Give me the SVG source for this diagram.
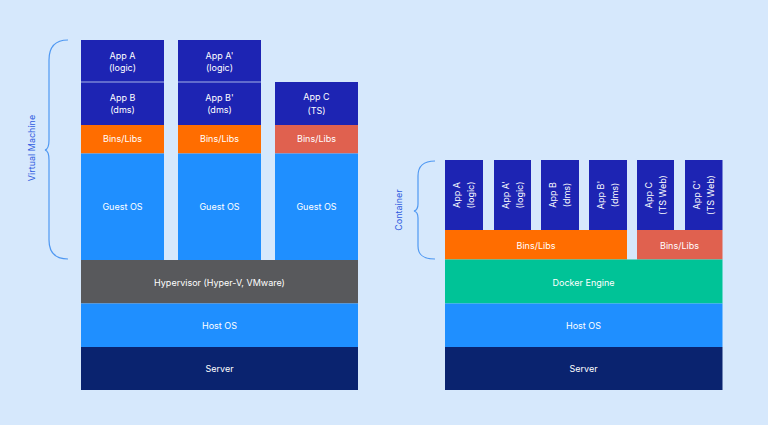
<svg xmlns="http://www.w3.org/2000/svg" width="768" height="425" viewBox="0 0 768 425">
<style>
text{font-family:Inter,"Open Sans","Liberation Sans",sans-serif;font-size:9px;fill:#ffffff;text-anchor:middle}
.lbl{fill:#2f5be0}
.app{fill:#1d24b3}
.bins{fill:#ff6d00}
.bins2{fill:#e0614f}
.guest{fill:#1f8fff}
.hyp{fill:#58595c}
.host{fill:#1f8fff}
.srv{fill:#0a236f}
.dock{fill:#00c397}
.sep{stroke:#c9d8f5;stroke-width:0.8}
.brace{fill:none;stroke:#4f98f2;stroke-width:1.2}
</style>
<rect width="768" height="425" fill="#d6e8fc"/>
<g id="vm-bracket">
<path class="brace" d="M68,40 C56,40 49,46 49,60 L49,140 Q49,149 45,150 Q49,151 49,160 L49,240 C49,253 56,259 68,259"/>
<text class="lbl" transform="translate(32,148) rotate(-90)" y="3.3">Virtual Machine</text>
</g>
<g id="vm1">
<rect class="app" x="81" y="40" width="83" height="85"/>
<line class="sep" x1="81" y1="82" x2="164" y2="82"/>
<text x="122.5" y="58.5">App A</text><text x="122.5" y="71">(logic)</text>
<text x="122.5" y="100.5">App B</text><text x="122.5" y="113">(dms)</text>
<rect class="bins" x="81" y="125" width="83" height="28.5"/>
<text x="122.5" y="142">Bins/Libs</text>
<rect class="guest" x="81" y="153.5" width="83" height="106.5"/>
<text x="122.5" y="210">Guest OS</text>
</g>
<g id="vm2">
<rect class="app" x="178" y="40" width="83" height="85"/>
<line class="sep" x1="178" y1="82" x2="261" y2="82"/>
<text x="219.5" y="58.5">App A'</text><text x="219.5" y="71">(logic)</text>
<text x="219.5" y="100.5">App B'</text><text x="219.5" y="113">(dms)</text>
<rect class="bins" x="178" y="125" width="83" height="28.5"/>
<text x="219.5" y="142">Bins/Libs</text>
<rect class="guest" x="178" y="153.5" width="83" height="106.5"/>
<text x="219.5" y="210">Guest OS</text>
</g>
<g id="vm3">
<rect class="app" x="275" y="82" width="83" height="43"/>
<text x="316.5" y="100">App C</text><text x="316.5" y="113.5">(TS)</text>
<rect class="bins2" x="275" y="125" width="83" height="28.5"/>
<text x="316.5" y="142">Bins/Libs</text>
<rect class="guest" x="275" y="153.5" width="83" height="106.5"/>
<text x="316.5" y="210">Guest OS</text>
</g>
<g id="hypervisor">
<rect class="hyp" x="81" y="260" width="277" height="43.5"/>
<text x="219.5" y="285.5">Hypervisor (Hyper-V, VMware)</text>
</g>
<g id="host-left">
<rect class="host" x="81" y="303.5" width="277" height="43.5"/>
<text x="219.5" y="329">Host OS</text>
</g>
<g id="server-left">
<rect class="srv" x="81" y="347" width="277" height="43"/>
<text x="219.5" y="371.5">Server</text>
</g>
<g id="container-bracket">
<path class="brace" d="M435,161 C423,161 418,166 418,176 L418,204 Q418,210 414,211 Q418,212 418,218 L418,246 C418,255 423,259 435,259"/>
<text class="lbl" transform="translate(399,210) rotate(-90)" y="3.3">Container</text>
</g>
<g id="c1"><rect class="app" x="445" y="160" width="38" height="70"/>
<g transform="translate(464,195) rotate(-90)"><text y="-3.7">App A</text><text y="10">(logic)</text></g></g>
<g id="c2"><rect class="app" x="494" y="160" width="37" height="70"/>
<g transform="translate(512.5,195) rotate(-90)"><text y="-3.7">App A'</text><text y="10">(logic)</text></g></g>
<g id="c3"><rect class="app" x="541" y="160" width="38" height="70"/>
<g transform="translate(560,195) rotate(-90)"><text y="-3.7">App B</text><text y="10">(dms)</text></g></g>
<g id="c4"><rect class="app" x="589" y="160" width="38" height="70"/>
<g transform="translate(608,195) rotate(-90)"><text y="-3.7">App B'</text><text y="10">(dms)</text></g></g>
<g id="c5"><rect class="app" x="637" y="160" width="37" height="70"/>
<g transform="translate(655.5,195) rotate(-90)"><text y="-3.7">App C</text><text y="10">(TS Web)</text></g></g>
<g id="c6"><rect class="app" x="685" y="160" width="37.5" height="70"/>
<g transform="translate(703.5,195) rotate(-90)"><text y="-3.7">App C'</text><text y="10">(TS Web)</text></g></g>
<g id="bins-right1">
<rect class="bins" x="445" y="230" width="182" height="29.5"/>
<text x="536" y="249">Bins/Libs</text>
</g>
<g id="bins-right2">
<rect class="bins2" x="637" y="230" width="85.5" height="29.5"/>
<text x="679.5" y="249">Bins/Libs</text>
</g>
<g id="docker">
<rect class="dock" x="445" y="259.5" width="277.5" height="44"/>
<text x="583.5" y="285.5">Docker Engine</text>
</g>
<g id="host-right">
<rect class="host" x="445" y="303.5" width="277.5" height="43.5"/>
<text x="583.5" y="329">Host OS</text>
</g>
<g id="server-right">
<rect class="srv" x="445" y="347" width="277.5" height="43"/>
<text x="583.5" y="371.5">Server</text>
</g>
<g id="connectors"/>
</svg>
